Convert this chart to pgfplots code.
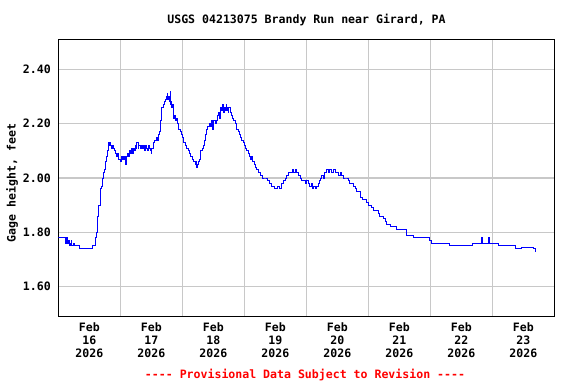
\documentclass[border=0pt]{standalone}
\usepackage{fontspec}
\setmonofont{DejaVu Sans Mono}
\usepackage{pgfplots}
\pgfplotsset{compat=1.18}
\definecolor{gridgray}{HTML}{C8C8C8}
\definecolor{lineblue}{HTML}{0000FF}
\definecolor{redtxt}{HTML}{FF0000}
\newcommand{\mf}{\ttfamily\bfseries\fontsize{11.6}{13}\selectfont}
\pgfplotstableread{
d v
0.000 1.78
0.108 1.78
0.121 1.76
0.130 1.78
0.140 1.77
0.150 1.76
0.161 1.77
0.173 1.75
0.189 1.76
0.205 1.77
0.215 1.75
0.242 1.76
0.260 1.75
0.285 1.75
0.339 1.74
0.511 1.74
0.545 1.75
0.580 1.75
0.603 1.78
0.615 1.80
0.625 1.83
0.635 1.86
0.655 1.90
0.673 1.93
0.685 1.96
0.700 1.97
0.715 2.00
0.726 2.02
0.740 2.03
0.753 2.04
0.765 2.06
0.777 2.08
0.790 2.10
0.806 2.13
0.820 2.12
0.834 2.13
0.845 2.12
0.860 2.11
0.875 2.12
0.887 2.11
0.905 2.10
0.920 2.09
0.931 2.08
0.950 2.09
0.965 2.07
0.984 2.07
1.000 2.06
1.011 2.08
1.030 2.07
1.044 2.08
1.060 2.07
1.076 2.08
1.084 2.05
1.092 2.08
1.110 2.09
1.124 2.08
1.140 2.10
1.156 2.09
1.172 2.11
1.189 2.09
1.205 2.11
1.221 2.10
1.240 2.12
1.255 2.11
1.265 2.13
1.285 2.11
1.300 2.12
1.318 2.11
1.335 2.12
1.350 2.11
1.371 2.12
1.385 2.10
1.398 2.12
1.415 2.11
1.431 2.10
1.450 2.12
1.465 2.11
1.479 2.10
1.495 2.09
1.510 2.11
1.532 2.13
1.550 2.14
1.576 2.15
1.600 2.14
1.613 2.16
1.635 2.17
1.652 2.21
1.660 2.22
1.668 2.26
1.689 2.27
1.705 2.28
1.723 2.29
1.740 2.30
1.756 2.31
1.765 2.29
1.775 2.30
1.785 2.28
1.795 2.29
1.802 2.32
1.812 2.27
1.818 2.28
1.829 2.26
1.840 2.27
1.850 2.25
1.860 2.22
1.872 2.23
1.885 2.21
1.900 2.22
1.915 2.20
1.930 2.19
1.945 2.18
1.963 2.17
1.980 2.16
2.000 2.15
2.016 2.13
2.035 2.13
2.055 2.12
2.075 2.11
2.097 2.10
2.115 2.09
2.135 2.08
2.150 2.08
2.168 2.07
2.185 2.06
2.205 2.06
2.215 2.05
2.225 2.06
2.232 2.04
2.245 2.05
2.253 2.06
2.270 2.07
2.285 2.08
2.300 2.10
2.320 2.11
2.339 2.12
2.355 2.14
2.370 2.16
2.394 2.18
2.410 2.19
2.430 2.20
2.447 2.19
2.465 2.21
2.479 2.18
2.495 2.20
2.510 2.21
2.527 2.20
2.545 2.21
2.560 2.23
2.581 2.24
2.595 2.22
2.608 2.24
2.620 2.26
2.635 2.25
2.652 2.27
2.662 2.24
2.673 2.26
2.690 2.25
2.705 2.27
2.716 2.25
2.728 2.26
2.737 2.24
2.750 2.26
2.769 2.24
2.790 2.23
2.805 2.22
2.823 2.21
2.850 2.20
2.870 2.19
2.880 2.18
2.903 2.17
2.925 2.16
2.945 2.15
2.960 2.14
2.984 2.13
3.000 2.12
3.020 2.11
3.040 2.10
3.065 2.09
3.085 2.08
3.100 2.07
3.120 2.08
3.125 2.06
3.145 2.06
3.165 2.05
3.185 2.04
3.200 2.03
3.226 2.02
3.260 2.01
3.300 2.00
3.334 2.00
3.370 1.99
3.400 1.98
3.442 1.97
3.480 1.96
3.511 1.96
3.540 1.97
3.560 1.96
3.603 1.98
3.630 1.99
3.660 2.00
3.684 2.01
3.720 2.02
3.750 2.02
3.781 2.03
3.800 2.02
3.820 2.03
3.845 2.02
3.870 2.01
3.900 2.00
3.926 1.99
3.950 1.99
3.980 1.98
4.010 1.99
4.032 1.98
4.050 1.97
4.080 1.98
4.097 1.96
4.120 1.97
4.140 1.96
4.168 1.97
4.190 1.98
4.210 1.99
4.232 2.00
4.250 2.01
4.270 2.00
4.290 2.02
4.302 2.02
4.330 2.03
4.350 2.02
4.370 2.03
4.382 2.03
4.410 2.02
4.430 2.03
4.463 2.02
4.500 2.02
4.520 2.01
4.550 2.02
4.571 2.01
4.600 2.00
4.640 2.00
4.677 1.99
4.700 1.98
4.730 1.98
4.758 1.97
4.790 1.96
4.810 1.95
4.840 1.95
4.866 1.94
4.880 1.93
4.900 1.92
4.940 1.92
4.974 1.91
5.000 1.90
5.030 1.90
5.055 1.89
5.090 1.88
5.120 1.88
5.161 1.87
5.180 1.86
5.200 1.86
5.242 1.85
5.270 1.84
5.300 1.83
5.350 1.82
5.400 1.82
5.458 1.81
5.592 1.81
5.619 1.79
5.726 1.78
5.942 1.78
5.984 1.77
6.023 1.76
6.237 1.76
6.311 1.75
6.668 1.75
6.684 1.76
6.818 1.76
6.829 1.78
6.842 1.76
6.935 1.78
6.947 1.76
6.963 1.76
7.097 1.75
7.177 1.75
7.366 1.74
7.474 1.745
7.661 1.74
7.689 1.73
7.700 1.73
}\gage
\begin{document}
\begin{tikzpicture}
\path[use as bounding box] (0bp,0bp) rectangle (576bp,384bp);
\begin{axis}[
  at={(58.3bp,68bp)}, anchor=south west,
  scale only axis, width=496bp, height=276.7bp,
  xmin=0, xmax=8, ymin=1.4922, ymax=2.5104,
  axis line style={black, line width=1bp},
  xtick={0.5,1.5,...,7.5},
  xticklabels={{Feb\\16\\2026},{Feb\\17\\2026},{Feb\\18\\2026},{Feb\\19\\2026},{Feb\\20\\2026},{Feb\\21\\2026},{Feb\\22\\2026},{Feb\\23\\2026}},
  minor xtick={1,2,...,7},
  xminorgrids=true, xmajorgrids=false,
  ytick={1.6,1.8,2.0,2.2,2.4},
  yticklabels={1.60,1.80,2.00,2.20,2.40},
  ymajorgrids=true,
  grid style={gridgray, line width=1.3bp},
  minor grid style={gridgray, line width=1.3bp},
  major tick length=0pt, minor tick length=0pt,
  tick label style={font=\mf},
  xticklabel style={align=center, yshift=-3bp},
  yticklabel style={xshift=-4bp},
  clip=true,
]
\addplot[lineblue, line width=0.9bp, const plot] table[x=d, y=v] {\gage};
\end{axis}
\node[font=\mf] at (306.5bp,364bp) {USGS 04213075 Brandy Run near Girard, PA};
\node[font=\mf, rotate=90] at (12bp,201bp) {Gage height, feet};
\node[font=\mf, text=redtxt] at (305bp,9bp) {---- Provisional Data Subject to Revision ----};
\end{tikzpicture}
\end{document}
